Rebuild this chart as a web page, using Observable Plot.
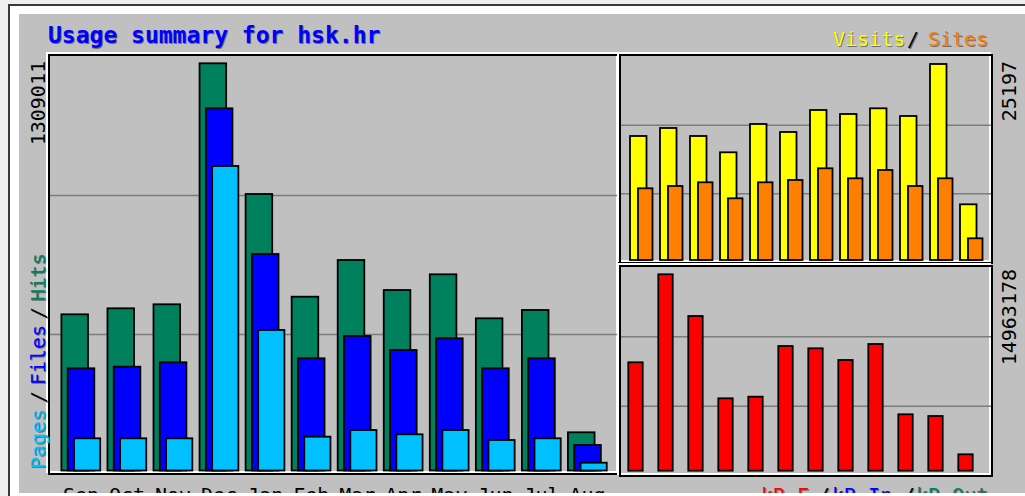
<!DOCTYPE html>
<html><head><meta charset="utf-8">
<script src="https://cdn.jsdelivr.net/npm/d3@7"></script>
<script src="https://cdn.jsdelivr.net/npm/@observablehq/plot@0.6"></script>
<style>
html,body{margin:0;padding:0;}
body{width:1025px;height:496px;overflow:hidden;background:#efefef;position:relative;font-family:"DejaVu Sans Mono",monospace;}
#white{position:absolute;left:8px;top:4px;right:0;bottom:0;border-left:2px solid #3a3a3a;border-top:2px solid #3a3a3a;background:#fff;}
#grey{position:absolute;left:19px;top:14px;width:1006px;height:479px;background:#c0c0c0;}
.panel{position:absolute;box-sizing:border-box;border:2px solid #000;box-shadow:-2px -2px 0 0 #fff, inset -2px -2px 0 0 #fff;}
.panel svg{display:block;position:absolute;left:0;top:0;}
#ov{position:absolute;left:0;top:0;pointer-events:none;}
</style></head>
<body>
<div id="white"></div>
<div id="grey"></div>
<div id="pL" class="panel" style="left:48px;top:54px;width:572px;height:421px;"></div>
<div id="pT" class="panel" style="left:619px;top:54px;width:374px;height:210px;"></div>
<div id="pB" class="panel" style="left:619px;top:265px;width:374px;height:212px;"></div>
<svg id="ov" width="1025" height="493"></svg>
<script>
const months = ["Sep","Oct","Nov","Dec","Jan","Feb","Mar","Apr","May","Jun","Jul","Aug"];
const hits   = [502100, 521400, 534300, 1309011, 888900, 558700, 676700, 580200, 630700, 489300, 516000, 122800];
const files  = [328500, 333700, 347800, 1164300, 696000, 360700, 432400, 387400, 425000, 328500, 360700, 82000];
const pages  = [103500, 103500, 103500, 978900, 451700, 108700, 130200, 116400, 130200, 98000, 103500, 25100];
const visits = [15941, 16970, 15941, 13845, 17484, 16455, 19284, 18770, 19500, 18512, 25197, 7160];
const sites  = [9218, 9513, 9989, 7932, 9989, 10285, 11789, 10503, 11570, 9513, 10503, 2790];
const kbytes = [8258000, 14963178, 11786000, 5516000, 5638000, 9500000, 9325000, 8434000, 9653000, 4297000, 4167000, 1249000];

const rows = months.map((m, i) => ({i, m, hits: hits[i], files: files[i], pages: pages[i],
  visits: visits[i], sites: sites[i], kbytes: kbytes[i]}));

const COL = {hits:"#00805c", files:"#0000ff", pages:"#00c0ff", visits:"#ffff00", sites:"#ff8000", kbytes:"#ff0000"};

function bars(key, off, w, color) {
  return Plot.rect(rows, {x1: d => d.i + off, x2: d => d.i + off + w, y1: 0, y2: key,
    fill: color, stroke: "#000", strokeWidth: 1.8});
}
function grid(max, yr, h) {
  const s = d3.scaleLinear().domain([0, max]).range(yr);
  return [h / 3, 2 * h / 3].map(v => s.invert(v));
}
function makePanel(id, w, h, xr, yr, max, marks) {
  const p = Plot.plot({
    width: w, height: h, margin: 0,
    x: {type: "linear", domain: [0, 12], range: xr, axis: null},
    y: {domain: [0, max], range: yr, axis: null},
    style: {background: "transparent", overflow: "visible"},
    marks: [Plot.ruleY(grid(max, yr, h), {stroke: "#7c7c7c", strokeWidth: 1.5}), ...marks]
  });
  document.getElementById(id).appendChild(p);
  return p;
}

// Left panel: hits / files / pages
const maxH = d3.max(hits);
const pxL = 46.05;
const pL = makePanel("pL", 568, 417, [11.4, 11.4 + 12 * pxL], [414.5, 7.3], maxH, [
  bars("hits", 0, 26.6 / pxL, COL.hits),
  bars("files", 6.3 / pxL, 26.6 / pxL, COL.files),
  bars("pages", 12.6 / pxL, 26.2 / pxL, COL.pages)
]);

// Right top: visits / sites
const maxV = d3.max(visits);
const pxR = 30;
makePanel("pT", 370, 206, [9, 9 + 12 * pxR], [204, 8], maxV, [
  bars("visits", 0, 16.5 / pxR, COL.visits),
  bars("sites", 8 / pxR, 14.5 / pxR, COL.sites)
]);

// Right bottom: kbytes
const maxK = d3.max(kbytes);
makePanel("pB", 370, 208, [7.3, 7.3 + 12 * pxR], [203.7, 7.3], maxK, [
  bars("kbytes", 0, 14.4 / pxR, COL.kbytes)
]);

// Text overlay
const ov = d3.select("#ov");
function txt(x, y, s, color, o = {}) {
  const size = o.size || 20, rot = o.rot || 0, anchor = o.anchor || "start";
  const draw = (dx, dy, c) => ov.append("text")
    .attr("transform", `translate(${x + dx},${y + dy}) rotate(${rot})`)
    .attr("text-anchor", anchor)
    .attr("font-family", "DejaVu Sans Mono, monospace")
    .attr("font-size", size)
    .attr("font-weight", o.weight || "normal")
    .attr("fill", c)
    .text(s);
  if (o.shadow) draw(1, 1, "#707070");
  draw(0, 0, color);
}

txt(48, 43, "Usage summary for hsk.hr", "#0000ff", {size: 23, weight: "bold", shadow: true});

txt(833, 46, "Visits", COL.visits, {shadow: true});
txt(907, 46, "/", "#000", {shadow: true});
txt(928, 46, "Sites", COL.sites, {shadow: true});

txt(45, 469, "Pages", COL.pages, {rot: -90, shadow: true});
txt(45, 403, "/", "#000", {rot: -90, shadow: true});
txt(45, 385, "Files", COL.files, {rot: -90, shadow: true});
txt(45, 319, "/", "#000", {rot: -90, shadow: true});
txt(45, 301, "Hits", COL.hits, {rot: -90, shadow: true});

txt(45, 61, String(maxH), "#000", {rot: -90, anchor: "end"});
txt(1016, 61, String(maxV), "#000", {rot: -90, anchor: "end"});
txt(1016, 269, String(maxK), "#000", {rot: -90, anchor: "end"});

const sx = pL.scale("x");
months.forEach((m, i) => txt(50 + sx.apply(i) + 1.5, 501.6, m, "#000"));

txt(761, 501.6, "kB F", COL.kbytes, {shadow: true});
txt(818, 501.6, "/", "#000", {shadow: true});
txt(832, 501.6, "kB In", COL.files, {shadow: true});
txt(903, 501.6, "/", "#000", {shadow: true});
txt(916, 501.6, "kB Out", COL.hits, {shadow: true});
</script>
</body></html>
